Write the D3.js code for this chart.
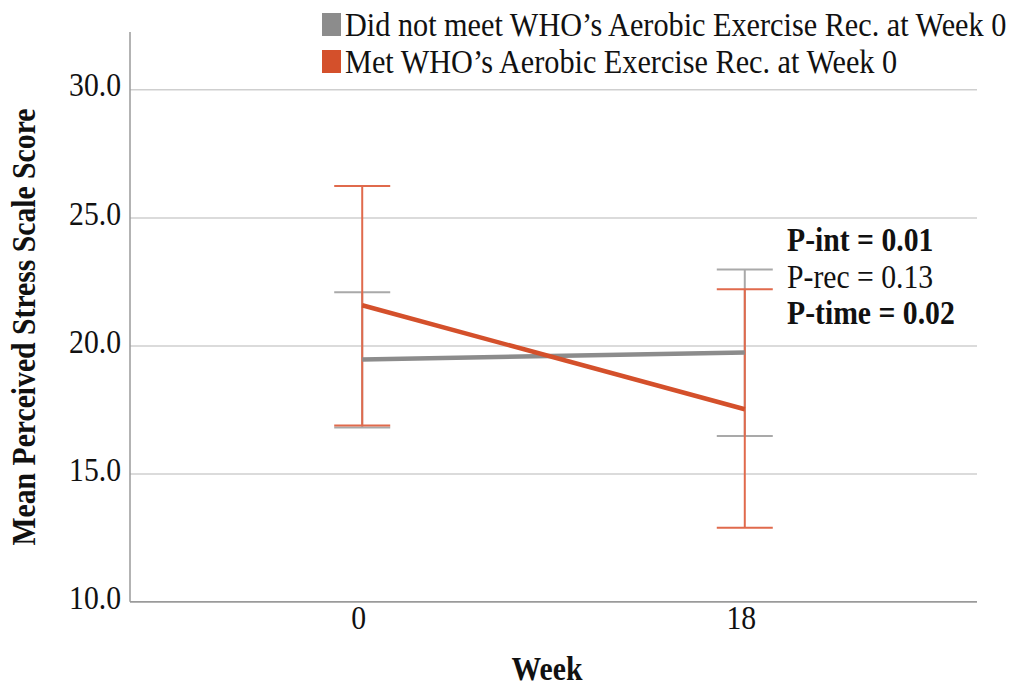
<!DOCTYPE html>
<html>
<head>
<meta charset="utf-8">
<script src="https://cdn.jsdelivr.net/npm/d3@7"></script>
<style>
  html, body { margin: 0; padding: 0; background: #fff; }
  svg { display: block; }
  text { font-family: "Liberation Serif", "Times New Roman", serif; fill: #111; }
</style>
</head>
<body>
<svg id="chart" width="1012" height="686"></svg>
<script>
// Weeks of assessment
const weeks = ["0", "18"];

// Did not meet WHO aerobic exercise recommendation at week 0
const notMetMean = [19.45, 19.73];
const notMetLow  = [16.80, 16.47];
const notMetHigh = [22.08, 22.97];

// Met WHO aerobic exercise recommendation at week 0
const metMean = [21.57, 17.51];
const metLow  = [16.88, 12.89];
const metHigh = [26.23, 22.20];

const yTicks = [10, 15, 20, 25, 30];

const legendLabels = [
  "Did not meet WHO\u2019s Aerobic Exercise Rec. at Week 0",
  "Met WHO\u2019s Aerobic Exercise Rec. at Week 0"
];

const stats = [
  { label: "P-int = 0.01", bold: true },
  { label: "P-rec = 0.13", bold: false },
  { label: "P-time = 0.02", bold: true }
];

const FONT = 33;      // font size
const SX = 0.9;       // horizontal squeeze of the serif lettering

const colors = {
  notMet: "#8c8c8c", notMetBar: "#a9a9a9",
  met: "#d4502b", metBar: "#e06a4c",
  grid: "#cfcfcf", axis: "#9a9a9a"
};

const svg = d3.select("#chart");
const left = 130, right = 977, bottom = 601.7;

const x = d3.scalePoint().domain(weeks).range([left, right]).padding(0.607);
const y = d3.scaleLinear().domain([10, 30]).range([bottom, 89.3]);
const yTop = y(32.24);

// squeezed text helper
function sText(g, str, tx, ty, anchor, weight, size) {
  return g.append("g")
    .attr("transform", `translate(${tx},${ty}) scale(${SX},1)`)
    .append("text")
    .attr("text-anchor", anchor || "start")
    .attr("font-weight", weight || "normal")
    .attr("font-size", size || FONT)
    .text(str);
}

// y axis with gridlines
const yAxis = svg.append("g")
  .attr("transform", `translate(${left},0)`)
  .call(d3.axisLeft(y).tickValues(yTicks).tickSize(-(right - left)).tickPadding(9)
    .tickFormat(d => d.toFixed(1)));
yAxis.select(".domain").remove();
yAxis.selectAll(".tick line").attr("stroke", colors.grid).attr("stroke-width", 1.5);
yAxis.selectAll(".tick text")
  .attr("font-family", "Liberation Serif")
  .attr("font-size", FONT)
  .attr("fill", "#111")
  .attr("x", 0)
  .attr("dy", "0.2em")
  .attr("transform", `translate(-9,0) scale(${SX},1)`);

// x axis
const xAxis = svg.append("g")
  .attr("transform", `translate(0,${bottom})`)
  .call(d3.axisBottom(x).tickSize(0).tickPadding(4));
xAxis.select(".domain").remove();
xAxis.selectAll(".tick text")
  .attr("font-family", "Liberation Serif")
  .attr("font-size", FONT)
  .attr("fill", "#111")
  .attr("x", 0)
  .attr("transform", `translate(-4,0) scale(${SX},1)`);

// axis frame lines
svg.append("line")
  .attr("x1", left).attr("x2", left).attr("y1", yTop).attr("y2", bottom)
  .attr("stroke", colors.axis).attr("stroke-width", 1.5);
svg.append("line")
  .attr("x1", left).attr("x2", right).attr("y1", bottom).attr("y2", bottom)
  .attr("stroke", colors.axis).attr("stroke-width", 1.5);

// error bars
const capHalf = 28;
function errorBars(low, high, color) {
  const g = svg.append("g").attr("stroke", color).attr("stroke-width", 2).attr("fill", "none");
  weeks.forEach((w, i) => {
    const cx = x(w);
    g.append("line").attr("x1", cx).attr("x2", cx).attr("y1", y(high[i])).attr("y2", y(low[i]));
    g.append("line").attr("x1", cx - capHalf).attr("x2", cx + capHalf).attr("y1", y(high[i])).attr("y2", y(high[i]));
    g.append("line").attr("x1", cx - capHalf).attr("x2", cx + capHalf).attr("y1", y(low[i])).attr("y2", y(low[i]));
  });
}
errorBars(notMetLow, notMetHigh, colors.notMetBar);
errorBars(metLow, metHigh, colors.metBar);

// mean lines
const line = d3.line().x((d, i) => x(weeks[i])).y(d => y(d));
svg.append("path").datum(notMetMean).attr("d", line)
  .attr("fill", "none").attr("stroke", colors.notMet).attr("stroke-width", 4.5);
svg.append("path").datum(metMean).attr("d", line)
  .attr("fill", "none").attr("stroke", colors.met).attr("stroke-width", 4.5);

// axis titles
sText(svg, "Week", 547, 680, "middle", "bold");
svg.append("g")
  .attr("transform", `translate(35,327) rotate(-90) scale(${SX},1)`)
  .append("text").attr("text-anchor", "middle").attr("font-weight", "bold")
  .attr("font-size", FONT).text("Mean Perceived Stress Scale Score");

// legend
const legendColors = [colors.notMet, colors.met];
legendLabels.forEach((lab, i) => {
  const ly = 13 + i * 37;
  svg.append("rect").attr("x", 322).attr("y", ly).attr("width", 19).attr("height", 23)
    .attr("fill", legendColors[i]);
  sText(svg, lab, 345, ly + 23, "start", "normal", 33.6);
});

// test statistics
stats.forEach((s, i) => {
  sText(svg, s.label, 787, 251 + i * 36.5, "start", s.bold ? "bold" : "normal");
});
</script>
</body>
</html>
